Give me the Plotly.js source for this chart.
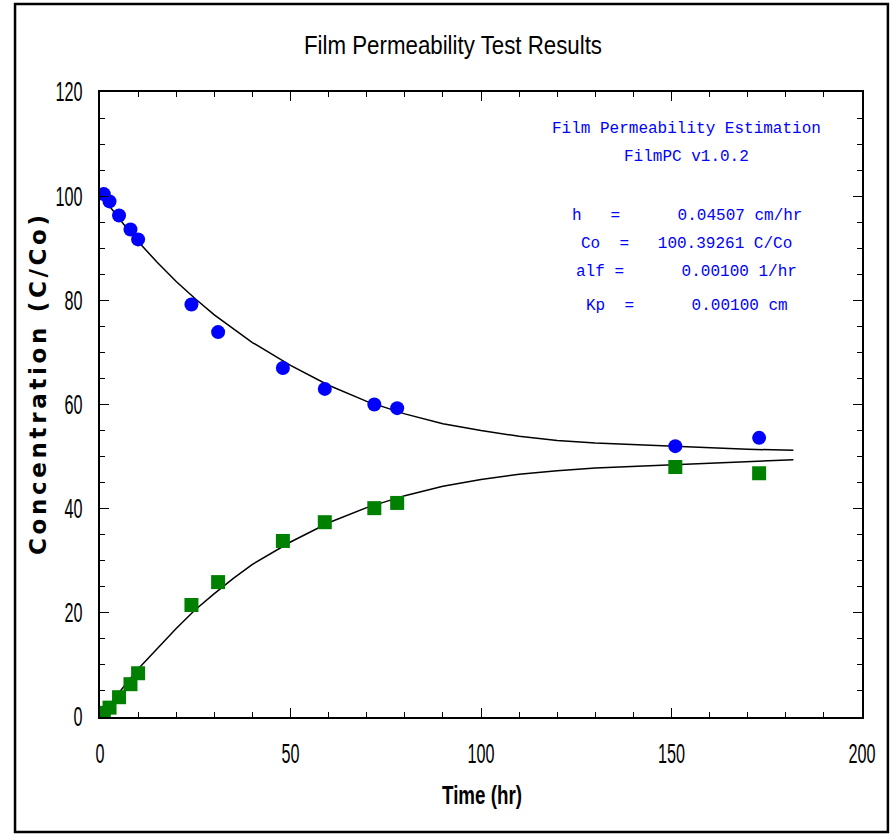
<!DOCTYPE html>
<html>
<head>
<meta charset="utf-8">
<script src="https://cdn.plot.ly/plotly-3.0.1.min.js"></script>
<style>
html,body{margin:0;padding:0;background:#fff;}
#chart{width:894px;height:836px;}
</style>
</head>
<body>
<div id="chart"></div>
<script>
// Measured data (hr, C/Co)
const sampleTimes = [1, 2.5, 5, 8, 10, 24, 31, 48, 59, 72, 78, 151, 173];
const donorConc   = [100.4, 99.0, 96.3, 93.6, 91.7, 79.2, 73.9, 67.0, 63.0, 60.0, 59.3, 52.0, 53.6];
const receptorConc = [0.8, 1.8, 3.8, 6.3, 8.4, 21.5, 25.9, 33.8, 37.4, 40.1, 41.1, 48.0, 46.8];

// Fitted curves
const fitTimes = [0, 2.5, 5, 7.5, 10, 15, 20, 25, 30, 35, 40, 50, 60, 70, 80, 90, 100, 110, 120, 130, 140, 150, 160, 170, 182];
const donorFit = [100.4, 98.0, 95.6, 93.4, 91.3, 87.3, 83.6, 80.3, 77.2, 74.5, 71.9, 67.5, 63.7, 60.6, 58.2, 56.3, 55.0, 53.9, 53.1, 52.6, 52.3, 52.0, 51.7, 51.4, 51.2];
const receptorFit = [0, 2.4, 4.8, 7.0, 9.2, 13.2, 17.0, 20.6, 23.7, 26.6, 29.3, 33.6, 37.3, 40.2, 42.5, 44.3, 45.6, 46.6, 47.3, 47.8, 48.1, 48.4, 48.7, 49.0, 49.4];

const xTickVals = [0, 50, 100, 150, 200];
const yTickVals = [0, 20, 40, 60, 80, 100, 120];

const infoLines = [
  "Film Permeability Estimation",
  "FilmPC v1.0.2",
  "h   =      0.04507 cm/hr",
  "Co  =   100.39261 C/Co",
  "alf =      0.00100 1/hr",
  "Kp  =      0.00100 cm"
];
const infoY = [0.941, 0.896, 0.802, 0.757, 0.712, 0.658];

const traces = [
  {x: fitTimes, y: donorFit, mode: 'lines', line: {color: '#000', width: 1.5}, hoverinfo: 'skip'},
  {x: fitTimes, y: receptorFit, mode: 'lines', line: {color: '#000', width: 1.5}, hoverinfo: 'skip'},
  {x: sampleTimes, y: donorConc, mode: 'markers', marker: {color: '#0000ff', size: 14, symbol: 'circle'}},
  {x: sampleTimes, y: receptorConc, mode: 'markers', marker: {color: '#008000', size: 14, symbol: 'square'}}
];

const sans = '"Liberation Sans", Arial, sans-serif';
const tickFont = {family: sans, size: 27, color: '#000'};

const annotations = infoLines.map((t, i) => ({
  xref: 'paper', yref: 'paper', x: 0.770, y: infoY[i],
  xanchor: 'center', yanchor: 'middle', showarrow: false,
  text: t.replace(/ /g, '\u00A0'),
  font: {family: '"Liberation Mono", "DejaVu Sans Mono", monospace', size: 16, color: '#0000ff'}
}));

const layout = {
  width: 894, height: 836,
  margin: {l: 100, r: 32, t: 92, b: 119},
  paper_bgcolor: '#fff', plot_bgcolor: '#fff',
  showlegend: false,
  title: {
    text: 'Film Permeability Test Results',
    x: 0.507, xref: 'container', xanchor: 'center',
    y: 0.946, yref: 'container', yanchor: 'middle',
    font: {family: sans, size: 25, color: '#000'}
  },
  xaxis: {
    range: [0, 200], tickvals: xTickVals, ticktext: xTickVals.map(String),
    ticks: 'inside', ticklen: 9, tickwidth: 1, tickcolor: '#000',
    minor: {dtick: 10, ticks: 'inside', ticklen: 5, tickcolor: '#000', showgrid: false},
    showline: true, linewidth: 2, linecolor: '#000', mirror: 'ticks',
    showgrid: false, zeroline: false, tickfont: tickFont, ticklabelstandoff: 12,
    title: {text: 'Time (hr)', standoff: 18,
      font: {family: sans, size: 25, weight: 'bold', color: '#000'}}
  },
  yaxis: {
    range: [0, 120], tickvals: yTickVals, ticktext: yTickVals.map(String),
    ticks: 'inside', ticklen: 9, tickwidth: 1, tickcolor: '#000',
    minor: {dtick: 5, ticks: 'inside', ticklen: 5, tickcolor: '#000', showgrid: false},
    showline: true, linewidth: 2, linecolor: '#000', mirror: 'ticks',
    showgrid: false, zeroline: false, tickfont: tickFont, ticklabelstandoff: 10,
    title: {text: 'Concentration (C/Co)', standoff: 14,
      font: {family: '"DejaVu Sans", Verdana, sans-serif', size: 23, weight: 'bold', color: '#000'}}
  },
  annotations: annotations,
  shapes: [{
    type: 'rect', xref: 'paper', yref: 'paper',
    x0: -0.1115, x1: 1.034, y0: -0.184, y1: 1.1408,
    line: {color: '#000', width: 2.5}, fillcolor: 'rgba(0,0,0,0)', layer: 'below'
  }]
};

// Narrow the text the way the original condensed typeface looks
function squeeze(el, target, mode) {
  const w = el.getComputedTextLength();
  if (!w) return;
  el.setAttribute('textLength', target);
  el.setAttribute('lengthAdjust', mode);
}
function moveCenter(sel, cx, cy) {
  const el = document.querySelector(sel);
  if (!el) return;
  const g = el.parentNode;
  const r = el.getBoundingClientRect();
  const dx = cx - (r.left + r.width / 2), dy = cy - (r.top + r.height / 2);
  const prev = g.getAttribute('transform') || '';
  g.setAttribute('transform', prev + ' translate(' + dx + ',' + dy + ')');
}

Plotly.newPlot('chart', traces, layout, {displayModeBar: false, staticPlot: true}).then(() => {
  document.querySelectorAll('#chart g.xtick text, #chart g.ytick text').forEach(t => {
    squeeze(t, t.getComputedTextLength() * 0.6, 'spacingAndGlyphs');
  });
  const gt = document.querySelector('#chart text.gtitle');
  if (gt) squeeze(gt, 298, 'spacingAndGlyphs');
  const xt = document.querySelector('#chart text.xtitle');
  if (xt) squeeze(xt, 80, 'spacingAndGlyphs');
  const yt = document.querySelector('#chart text.ytitle');
  if (yt) squeeze(yt, 340, 'spacing');
  moveCenter('#chart text.gtitle', 453, 45);
  moveCenter('#chart text.xtitle', 482, 795);
  moveCenter('#chart text.ytitle', 38, 385);
});
</script>
</body>
</html>
